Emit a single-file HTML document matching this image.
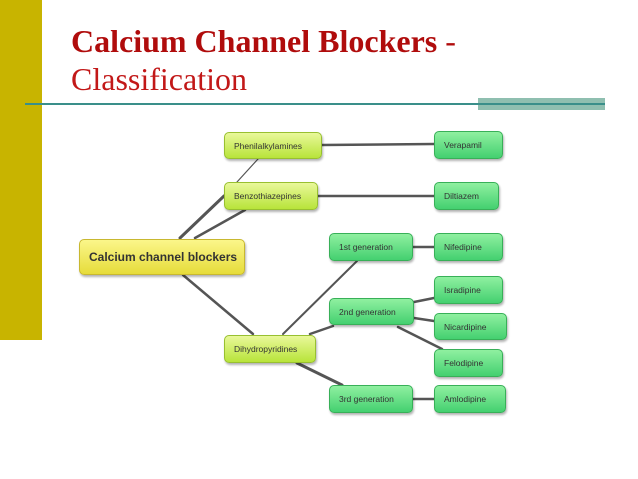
<!DOCTYPE html>
<html><head><style>
body{margin:0;width:638px;height:479px;background:#fff;position:relative;overflow:hidden;font-family:"Liberation Sans",sans-serif}
.bar{position:absolute;left:0;top:0;width:42px;height:340px;background:#c8b400}
.t1{position:absolute;left:71px;top:25px;font:bold 32px/32px "Liberation Serif",serif;color:#b00c0c;white-space:nowrap}
.t1 span{font-weight:normal}
.t2{position:absolute;left:71px;top:63px;font:32px/32px "Liberation Serif",serif;color:#c21818}
.hl{position:absolute;left:25px;top:103px;width:580px;height:2px;background:#3a8f8a}
.hb{position:absolute;left:478px;top:98px;width:127px;height:12px;background:#8fbfb0}
.n{position:absolute;box-sizing:border-box;border-radius:5px;font-size:8.5px;color:#333;padding-left:9px;display:flex;align-items:center;box-shadow:1px 2px 2px rgba(0,0,0,.3)}
.y{background:linear-gradient(#e9f89a,#b8e43a);border:1px solid #98c030}
.g{background:linear-gradient(#8ff0a0,#44d070);border:1px solid #38b058}
.r{background:linear-gradient(#fbf68a,#e6dc3a);border:1px solid #c8b830;font-size:12px;font-weight:bold;color:#333}
svg{position:absolute;left:0;top:0}
</style></head><body>
<div class="bar"></div>
<div class="t1">Calcium Channel Blockers <span>-</span></div>
<div class="t2">Classification</div>
<div class="hb"></div>
<div class="hl"></div>
<svg width="638" height="479" stroke="#555" stroke-linecap="round">
<line x1="180" y1="238" x2="224" y2="196" stroke-width="3"/>
<line x1="237" y1="182" x2="258" y2="159" stroke-width="1.2"/>
<line x1="195" y1="238" x2="245" y2="210" stroke-width="2.5"/>
<line x1="183" y1="275" x2="253" y2="334" stroke-width="2.5"/>
<line x1="283" y1="334" x2="357" y2="261" stroke-width="2"/>
<line x1="310" y1="334" x2="333" y2="326" stroke-width="2.5"/>
<line x1="297" y1="363" x2="342" y2="385" stroke-width="3"/>
<line x1="322" y1="145" x2="434" y2="144" stroke-width="2.5"/>
<line x1="318" y1="196" x2="434" y2="196" stroke-width="2.5"/>
<line x1="413" y1="247" x2="434" y2="247" stroke-width="2.5"/>
<line x1="413" y1="399" x2="434" y2="399" stroke-width="2.5"/>
<line x1="414" y1="302" x2="434" y2="298" stroke-width="2.5"/>
<line x1="414" y1="318" x2="434" y2="321" stroke-width="2.5"/>
<line x1="398" y1="327" x2="442" y2="349" stroke-width="2.5"/>
</svg>
<div class="n r" style="left:79px;top:239px;width:166px;height:36px">Calcium channel blockers</div>
<div class="n y" style="left:224px;top:132px;width:98px;height:27px">Phenilalkylamines</div>
<div class="n y" style="left:224px;top:182px;width:94px;height:28px">Benzothiazepines</div>
<div class="n y" style="left:224px;top:335px;width:92px;height:28px">Dihydropyridines</div>
<div class="n g" style="left:329px;top:233px;width:84px;height:28px">1st generation</div>
<div class="n g" style="left:329px;top:298px;width:85px;height:27px">2nd generation</div>
<div class="n g" style="left:329px;top:385px;width:84px;height:28px">3rd generation</div>
<div class="n g" style="left:434px;top:131px;width:69px;height:28px">Verapamil</div>
<div class="n g" style="left:434px;top:182px;width:65px;height:28px">Diltiazem</div>
<div class="n g" style="left:434px;top:233px;width:69px;height:28px">Nifedipine</div>
<div class="n g" style="left:434px;top:276px;width:69px;height:28px">Isradipine</div>
<div class="n g" style="left:434px;top:313px;width:73px;height:27px">Nicardipine</div>
<div class="n g" style="left:434px;top:349px;width:69px;height:28px">Felodipine</div>
<div class="n g" style="left:434px;top:385px;width:72px;height:28px">Amlodipine</div>
</body></html>
